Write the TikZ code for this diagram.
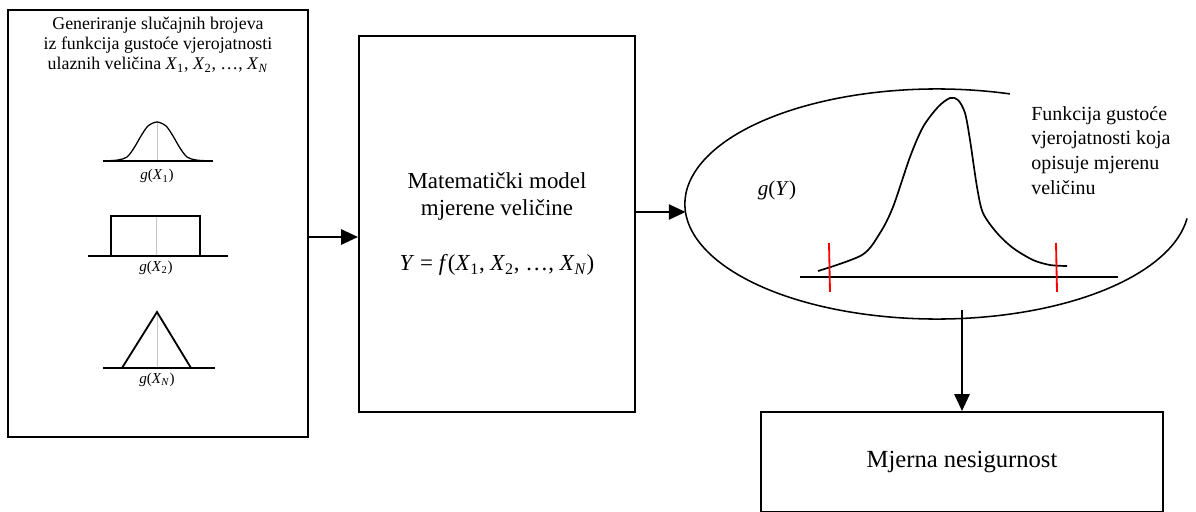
\documentclass[tikz,border=0pt]{standalone}
\usepackage{fontspec}
\setmainfont{Liberation Serif}
\usepackage{tikz}
\usetikzlibrary{arrows.meta,positioning}
\newcommand{\xvar}[1]{\textit{X}\textsubscript{#1}}
\tikzset{
  box/.style={draw, line width=1.4pt, inner sep=0pt, align=center},
  line/.style={-{Triangle[length=4.2mm, width=3.8mm]}, line width=1.4pt},
  pdf/.style={line width=0.9pt},
  axis/.style={line width=0.9pt},
  midline/.style={gray!45, line width=0.4pt},
  redtick/.style={red, line width=1.3pt},
  lbl/.style={inner sep=0pt, font=\fontsize{10.7}{12}\selectfont}
}

\begin{document}
\begin{tikzpicture}[x=0.025cm, y=-0.025cm]
  \useasboundingbox (0,0) rectangle (1196,512);
  % blocks
  \node[box, minimum width=7.5cm, minimum height=10.675cm] (inp) at (158,223.5) {};
  \node[box, minimum width=6.9cm, minimum height=9.4cm, font=\fontsize{16.3}{19.5}\selectfont] (mod) at (497,224)
    {Matematički model\\mjerene veličine\\[0.7cm]\textit{Y} = \textit{f}(\xvar{1}, \xvar{2}, …, \xvar{\textit{N}})};
  \node[box, minimum width=10.05cm, minimum height=2.5cm, font=\fontsize{17.5}{21}\selectfont] (unc) at (962,462) {Mjerna nesigurnost};

  % input quantities
  \node[anchor=north, inner sep=0pt, align=center, font=\fontsize{12.7}{14.2}\selectfont] (gen) at (158,17)
    {Generiranje slučajnih brojeva\\iz funkcija gustoće vjerojatnosti\\ulaznih veličina \xvar{1}, \xvar{2}, …, \xvar{\textit{N}}};

  \coordinate (b1) at (157,161);
  \draw[midline] (b1) -- (157,122);
  \draw[axis] (103,161) -- (213,161);
  \draw[pdf] plot[smooth] coordinates {(103,161) (118,160) (127,157) (134,148) (141,136) (148,126) (157,122) (166,126) (173,136) (180,148) (187,157) (196,160) (211,161)};
  \node[lbl, below=0.2cm of b1] (l1) {\textit{g}(\xvar{1})};

  \coordinate (b2) at (156,256);
  \draw[midline] (b2) -- (156,216);
  \draw[axis] (88,256) -- (228,256);
  \draw[line width=1.3pt] (111,256) -- (111,216) -- (200,216) -- (200,256);
  \node[lbl, below=0.12cm of b2] (l2) {\textit{g}(\xvar{2})};

  \coordinate (b3) at (157,368);
  \draw[midline] (b3) -- (157,312);
  \draw[axis] (103,368) -- (215,368);
  \draw[line width=1.3pt] (122,368) -- (157,312) -- (191,368);
  \node[lbl, below=0.12cm of b3] (l3) {\textit{g}(\xvar{\textit{N}})};

  % output density
  \coordinate (gtop) at (1009.8,93.9);
  \draw[line width=1.1pt] (gtop) arc[start angle=73.2, end angle=352.8, x radius=6.3cm, y radius=2.875cm];
  \coordinate (gin) at (685.6,212);
  \coordinate (gout) at (962,310);
  \draw[axis] (800,277) -- (1118,277);
  \draw[line width=1.2pt] plot[smooth] coordinates {(818,271) (862,255) (880,233) (893,207) (910,157) (923,127) (938,107) (950,98) (958,100) (965,113) (970,140) (977,187) (983,213) (997,233) (1013,248) (1033,260) (1050,265) (1067,266)};
  \draw[redtick] (829,243) -- (830,292);
  \draw[redtick] (1056,243) -- (1057,292);
  \node[font=\fontsize{15}{18}\selectfont] (gy) at (777,190) {\textit{g}(\textit{Y})};
  \node[anchor=north west, inner sep=0pt, align=left, font=\fontsize{14.2}{17.6}\selectfont] (desc) at (1031,106)
    {Funkcija gustoće\\vjerojatnosti koja\\opisuje mjerenu\\veličinu};

  % connectors
  \coordinate (a1) at (308,237);
  \draw[line] (a1) -- (a1 -| mod.west);
  \draw[line] (mod.east |- gin) -- (gin);
  \draw[line] (gout) -- (unc.north);
\end{tikzpicture}
\end{document}
